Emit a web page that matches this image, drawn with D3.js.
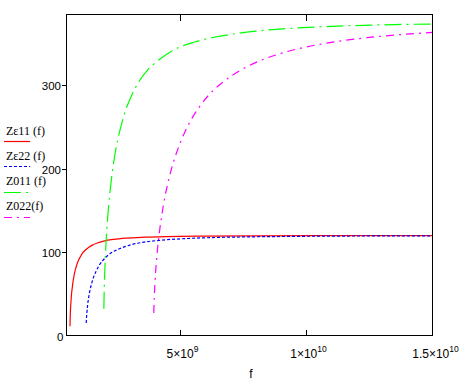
<!DOCTYPE html>
<html>
<head>
<meta charset="utf-8">
<script src="https://cdn.jsdelivr.net/npm/d3@7"></script>
<style>
  html, body { margin: 0; padding: 0; background: #fff; }
  svg { display: block; }
</style>
</head>
<body>
<svg id="chart" width="468" height="382"></svg>
<script>
// ---- data (frequency in GHz, impedance values) ----
const fZe11 = [0.668,0.675,0.69,0.71,0.73,0.76,0.79,0.83,0.88,0.94,1.0,1.08,1.17,1.28,1.4,1.55,1.75,2.0,2.4,2.9,3.6,4.5,6,8,10.5,13,15];
const vZe11 = [11,21,32,42,50,58,65,72,79,85,90,94.5,99,102.5,105.6,108.4,111,113.2,115.3,116.8,117.9,118.7,119.3,119.6,119.8,119.8,119.9];

const fZe22 = [1.31,1.32,1.335,1.36,1.4,1.45,1.52,1.6,1.7,1.82,1.97,2.15,2.4,2.7,3.1,3.6,4.3,5.2,6.5,8,10,12.5,15];
const vZe22 = [15,21,27,35,44.5,53,62,70,77,84,90,95.6,101,105,109,112,114.4,116.2,117.6,118.4,119,119.4,119.5];

const fZ011 = [2.007,2.02,2.04,2.07,2.1,2.15,2.2,2.27,2.35,2.45,2.57,2.72,2.9,3.12,3.4,3.75,4.2,4.8,5.6,6.6,8,9.5,11.5,13.5,15];
const vZ011 = [32,53,74,97,115,138,157,178,198,218,237,255,273,289,305,319,331,343,352,359,365,368.6,371.3,372.9,373.6];

const fZ022 = [3.98,4.0,4.03,4.07,4.12,4.2,4.3,4.42,4.57,4.75,4.95,5.2,5.5,5.85,6.3,6.8,7.4,8.1,9.0,10,11.2,12.5,13.8,15];
const vZ022 = [27,46,65,83,101,123,145,166,187,207,225,243.5,261,277,293,306,318,328.6,338.3,346,352.5,357.5,361,363.5];

const yTicks = [0, 100, 200, 300];
const xTicks = [5e9, 1e10, 1.5e10];
const xTickMant = ["5", "1", "1.5"];
const xTickExp = ["9", "10", "10"];
const legendLabels = ["Z\u03b511 (f)", "Z\u03b522 (f)", "Z011 (f)", "Z022(f)"];
const seriesColors = ["#ff0000", "#0000ff", "#00ff00", "#ff00ff"];
const seriesDash = [null, "3,2", "17,5,2,5", "8,5,2,5"];

// ---- layout ----
const L = 66.5, R = 432.5, T = 14.5, B = 335.5;
const svg = d3.select("#chart");
const x = d3.scaleLinear().domain([0.53e9, 1.5e10]).range([L, R]);
const y = d3.scaleLinear().domain([0, 385]).range([B, T]);

const series = [
  {f: fZe11, v: vZe11},
  {f: fZe22, v: vZe22},
  {f: fZ011, v: vZ011},
  {f: fZ022, v: vZ022}
];

const line = d3.line()
  .x(d => x(d[0] * 1e9))
  .y(d => y(d[1]))
  .curve(d3.curveMonotoneX);

series.forEach((s, i) => {
  const pts = s.f.map((f, k) => [f, s.v[k]]);
  svg.append("path")
    .attr("d", line(pts))
    .attr("fill", "none")
    .attr("stroke", seriesColors[i])
    .attr("stroke-width", 1.2)
    .attr("stroke-dasharray", seriesDash[i]);
});

// frame
svg.append("rect")
  .attr("x", L).attr("y", T)
  .attr("width", R - L).attr("height", B - T)
  .attr("fill", "none").attr("stroke", "#000").attr("stroke-width", 1)
  .attr("shape-rendering", "crispEdges");

// y ticks + labels
yTicks.forEach(t => {
  const yy = Math.round(y(t)) + 0.5;
  if (t > 0) {
    svg.append("line").attr("x1", L - 5).attr("x2", L).attr("y1", yy).attr("y2", yy)
      .attr("stroke", "#000").attr("shape-rendering", "crispEdges");
  }
  svg.append("text")
    .attr("x", t === 0 ? L - 3 : L - 5.5)
    .attr("y", yy + 4)
    .attr("text-anchor", "end")
    .attr("font-family", "Liberation Sans, Arial, sans-serif")
    .attr("font-size", 11.5)
    .attr("fill", "#000")
    .text(t);
});

// x ticks + labels
xTicks.forEach((t, i) => {
  const xx = Math.round(x(t)) + 0.5;
  if (t < 1.5e10) {
    svg.append("line").attr("x1", xx).attr("x2", xx).attr("y1", B).attr("y2", B - 6)
      .attr("stroke", "#000").attr("shape-rendering", "crispEdges");
    svg.append("line").attr("x1", xx).attr("x2", xx).attr("y1", T).attr("y2", T + 6)
      .attr("stroke", "#000").attr("shape-rendering", "crispEdges");
  }
  const txt = svg.append("text")
    .attr("x", xx + 2)
    .attr("y", 358)
    .attr("text-anchor", "middle")
    .attr("font-family", "Liberation Sans, Arial, sans-serif")
    .attr("font-size", 12)
    .attr("fill", "#000");
  txt.append("tspan").text(xTickMant[i] + "\u00d710");
  txt.append("tspan").attr("dy", -6).attr("font-size", 8.5).text(xTickExp[i]);
});

// x axis title
svg.append("text")
  .attr("x", 251).attr("y", 378)
  .attr("text-anchor", "middle")
  .attr("font-family", "Liberation Sans, Arial, sans-serif")
  .attr("font-size", 12)
  .attr("fill", "#000")
  .text("f");

// legend
const legendTextY = [135, 160, 185, 210];
const legendLineY = [141.5, 166.5, 192.5, 217.5];
legendLabels.forEach((lab, i) => {
  svg.append("text")
    .attr("x", 6).attr("y", legendTextY[i])
    .attr("font-family", "Liberation Serif, Times New Roman, serif")
    .attr("font-size", 12)
    .attr("fill", "#000")
    .text(lab);
  svg.append("line")
    .attr("x1", 4).attr("x2", 30)
    .attr("y1", legendLineY[i]).attr("y2", legendLineY[i])
    .attr("stroke", seriesColors[i])
    .attr("stroke-width", 1.2)
    .attr("stroke-dasharray", seriesDash[i]);
});
</script>
</body>
</html>
